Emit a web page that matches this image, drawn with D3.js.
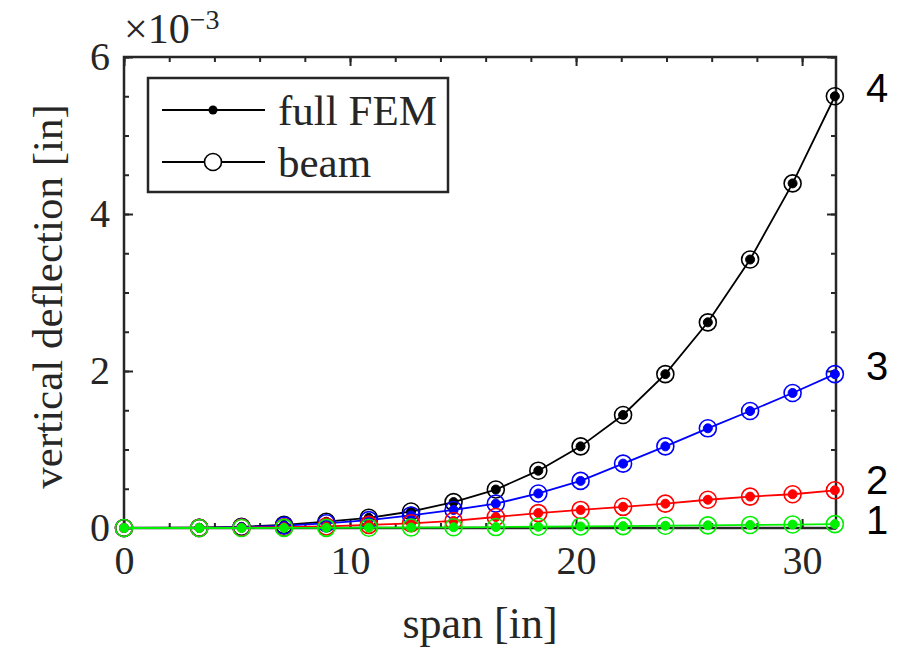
<!DOCTYPE html>
<html><head><meta charset="utf-8">
<script src="https://cdn.jsdelivr.net/npm/d3@7"></script>
<style>
body{margin:0;background:#fff;}
svg{display:block;}
</style></head>
<body>
<svg id="chart" width="920" height="650"></svg>
<script>
// span values [in]
const span = [0, 3.33, 5.2, 7.08, 8.95, 10.83, 12.7, 14.58, 16.45, 18.33, 20.2, 22.08, 23.95, 25.83, 27.7, 29.58, 31.45];
// vertical deflection (x 1e-3 in) for load cases 1..4, full FEM and beam
const fem4  = [0, 0.003, 0.015, 0.04, 0.08, 0.13, 0.21, 0.33, 0.49, 0.73, 1.04, 1.44, 1.96, 2.62, 3.42, 4.39, 5.50];
const beam4 = [0, 0.003, 0.015, 0.04, 0.08, 0.13, 0.21, 0.33, 0.49, 0.73, 1.04, 1.44, 1.96, 2.62, 3.42, 4.39, 5.50];
const fem3  = [0, 0.002, 0.01, 0.03, 0.06, 0.10, 0.16, 0.23, 0.31, 0.44, 0.60, 0.82, 1.04, 1.27, 1.49, 1.72, 1.96];
const beam3 = [0, 0.002, 0.01, 0.03, 0.06, 0.10, 0.16, 0.23, 0.31, 0.44, 0.60, 0.82, 1.04, 1.27, 1.49, 1.72, 1.96];
const fem2  = [0, 0.001, 0.005, 0.01, 0.02, 0.04, 0.06, 0.09, 0.14, 0.19, 0.23, 0.27, 0.31, 0.36, 0.40, 0.43, 0.48];
const beam2 = [0, 0.001, 0.005, 0.01, 0.02, 0.04, 0.06, 0.09, 0.14, 0.19, 0.23, 0.27, 0.31, 0.36, 0.40, 0.43, 0.48];
const fem1  = [0, 0, 0, 0.001, 0.002, 0.004, 0.006, 0.009, 0.012, 0.016, 0.02, 0.024, 0.029, 0.034, 0.039, 0.044, 0.05];
const beam1 = [0, 0, 0, 0.001, 0.002, 0.004, 0.006, 0.009, 0.012, 0.016, 0.02, 0.024, 0.029, 0.034, 0.039, 0.044, 0.05];
const caseLabels = ["1", "2", "3", "4"];
const caseColors = ["#00f000", "#ff0000", "#0000ff", "#000000"];
const xTicks = [0, 10, 20, 30];
const yTicks = [0, 2, 4, 6];
const legendLabels = ["full FEM", "beam"];

const SERIF = "'Liberation Serif','DejaVu Serif',serif";
const SANS = "'Liberation Sans',Arial,sans-serif";
const svg = d3.select("#chart");
const L = 124, R = 836, T = 57, B = 528;
const x = d3.scaleLinear().domain([0, 31.5]).range([L, R]);
const y = d3.scaleLinear().domain([0, 6]).range([B, T]);
const axisColor = "#262626";

const cases = [
  {fem: fem1, beam: beam1},
  {fem: fem2, beam: beam2},
  {fem: fem3, beam: beam3},
  {fem: fem4, beam: beam4}
];

// axes box with inward ticks, MATLAB style
const minorX = d3.range(0, 31.5 + 1e-9, 2);
const minorY = d3.range(0, 6 + 1e-9, 0.5);
const gAx = svg.append("g");
gAx.append("g").attr("transform", `translate(0,${B})`)
  .call(d3.axisBottom(x).tickValues(minorX).tickFormat("").tickSizeInner(-5).tickSizeOuter(0));
gAx.append("g").attr("transform", `translate(0,${T})`)
  .call(d3.axisTop(x).tickValues(minorX).tickFormat("").tickSizeInner(-5).tickSizeOuter(0));
gAx.append("g").attr("transform", `translate(${L},0)`)
  .call(d3.axisLeft(y).tickValues(minorY).tickFormat("").tickSizeInner(-5).tickSizeOuter(0));
gAx.append("g").attr("transform", `translate(${R},0)`)
  .call(d3.axisRight(y).tickValues(minorY).tickFormat("").tickSizeInner(-5).tickSizeOuter(0));
gAx.append("g").attr("transform", `translate(0,${B})`)
  .call(d3.axisBottom(x).tickValues(xTicks).tickFormat(d3.format("d")).tickSizeInner(-9).tickSizeOuter(0).tickPadding(18));
gAx.append("g").attr("transform", `translate(${L},0)`)
  .call(d3.axisLeft(y).tickValues(yTicks).tickFormat(d3.format("d")).tickSizeInner(-9).tickSizeOuter(0).tickPadding(14));
gAx.append("g").attr("transform", `translate(0,${T})`)
  .call(d3.axisTop(x).tickValues(xTicks).tickFormat("").tickSizeInner(-9).tickSizeOuter(0));
gAx.append("g").attr("transform", `translate(${R},0)`)
  .call(d3.axisRight(y).tickValues(yTicks).tickFormat("").tickSizeInner(-9).tickSizeOuter(0));
gAx.selectAll(".domain").remove();
gAx.selectAll("line").attr("stroke", axisColor).attr("stroke-width", 2);
gAx.selectAll("text").style("font-family", SERIF).style("font-size", "40px").attr("fill", axisColor);
gAx.append("rect").attr("x", L).attr("y", T).attr("width", R - L).attr("height", B - T)
  .attr("fill", "none").attr("stroke", axisColor).attr("stroke-width", 2.5);

// data
const gData = svg.append("g");
const line = d3.line().x((d, i) => x(span[i])).y(d => y(d));
[3, 2, 1, 0].forEach(ci => {
  const c = cases[ci], col = caseColors[ci];
  const g = gData.append("g");
  g.append("path").datum(c.beam).attr("d", line).attr("fill", "none")
    .attr("stroke", col).attr("stroke-width", 1.8);
  g.selectAll(".o").data(c.beam).join("circle").attr("class", "o")
    .attr("cx", (d, i) => x(span[i])).attr("cy", d => y(d)).attr("r", 8.5)
    .attr("fill", "none").attr("stroke", col).attr("stroke-width", 1.6);
  g.selectAll(".f").data(c.fem).join("circle").attr("class", "f")
    .attr("cx", (d, i) => x(span[i])).attr("cy", d => y(d)).attr("r", 4.5)
    .attr("fill", col).attr("stroke", col).attr("stroke-width", 1);
});

// right case labels
const labOff = [-4, -10, -8, -8];
caseLabels.forEach((lab, ci) => {
  const c = cases[ci];
  const v = c.fem[c.fem.length - 1];
  svg.append("text").attr("x", 877).attr("y", y(v) + labOff[ci]).attr("text-anchor", "middle")
    .attr("dominant-baseline", "central")
    .style("font-family", SANS).style("font-size", "40px").attr("fill", "#000").text(lab);
});

// exponent label
const ex = svg.append("text").attr("x", 124).attr("y", 43)
  .style("font-family", SERIF).style("font-size", "42px").attr("fill", axisColor);
ex.append("tspan").text("×10");
ex.append("tspan").attr("dy", -14).style("font-size", "28px").text("−3");

// axis titles
svg.append("text").attr("x", (L + R) / 2).attr("y", 638).attr("text-anchor", "middle")
  .style("font-family", SERIF).style("font-size", "44px").attr("fill", axisColor).text("span [in]");
svg.append("text").attr("transform", `translate(62,${(T + B) / 2 + 4}) rotate(-90)`)
  .attr("text-anchor", "middle")
  .style("font-family", SERIF).style("font-size", "43px").attr("fill", axisColor)
  .text("vertical deflection [in]");

// legend
const lg = svg.append("g");
lg.append("rect").attr("x", 148).attr("y", 78).attr("width", 300).attr("height", 114)
  .attr("fill", "#fff").attr("stroke", axisColor).attr("stroke-width", 2.5);
legendLabels.forEach((lab, i) => {
  const yy = 110 + i * 52;
  lg.append("line").attr("x1", 162).attr("x2", 265).attr("y1", yy).attr("y2", yy)
    .attr("stroke", "#000").attr("stroke-width", 1.8);
  if (i === 0) {
    lg.append("circle").attr("cx", 213).attr("cy", yy).attr("r", 4.5).attr("fill", "#000");
  } else {
    lg.append("circle").attr("cx", 213).attr("cy", yy).attr("r", 8.5).attr("fill", "#fff")
      .attr("stroke", "#000").attr("stroke-width", 1.6);
  }
  lg.append("text").attr("x", 278).attr("y", yy).attr("dominant-baseline", "central")
    .style("font-family", SERIF).style("font-size", "43px").attr("fill", axisColor).text(lab);
});
</script>
</body></html>
